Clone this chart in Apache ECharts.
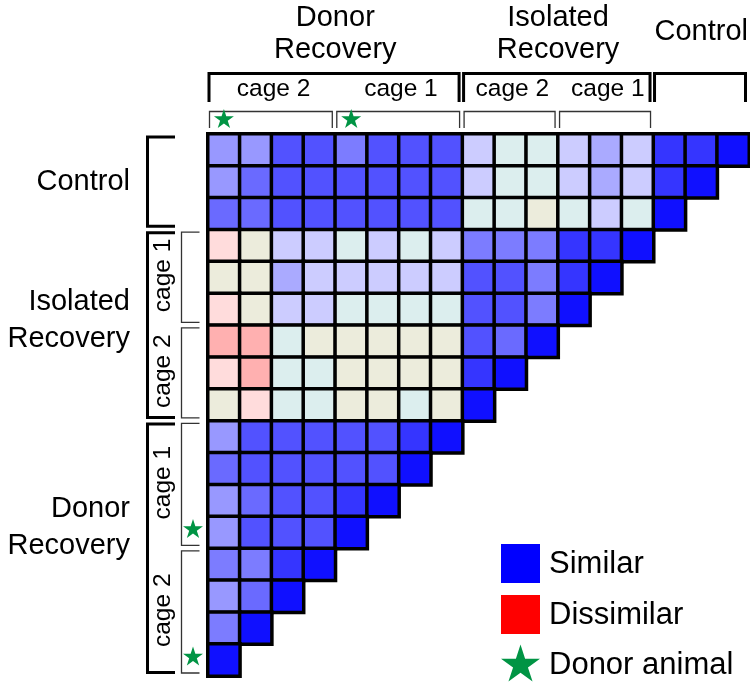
<!DOCTYPE html>
<html><head><meta charset="utf-8">
<script src="https://cdn.jsdelivr.net/npm/echarts@6/dist/echarts.min.js"></script>
<style>html,body{margin:0;padding:0;background:#fff}#c{width:750px;height:685px}</style>
</head><body><div id="c"></div>
<script>
// Column animals (left to right)
const columns = ['D2-1','D2-2','D2-3','D2-4','D1-1','D1-2','D1-3','D1-4','I2-1','I2-2','I2-3','I1-1','I1-2','I1-3','C-1','C-2','C-3'];
// Row animals (top to bottom)
const rows = ['C-1','C-2','C-3','I1-1','I1-2','I1-3','I2-1','I2-2','I2-3','D1-1','D1-2','D1-3','D1-4','D2-1','D2-2','D2-3','D2-4'];
// Similarity level per row (10 = most similar, -1 = most dissimilar)
const similarity = [
  [5,5,8,8,6,8,8,8,3,2,2,3,4,3,9,9,10],
  [5,7,8,8,8,8,8,8,3,2,2,3,4,3,9,10],
  [7,7,8,8,8,8,8,8,2,2,1,2,3,2,10],
  [0,1,3,3,2,3,2,3,6,6,6,9,9,10],
  [1,1,4,3,3,3,3,3,8,8,6,9,10],
  [0,1,3,3,2,2,2,2,8,8,6,10],
  [-1,-1,2,1,1,1,1,1,8,7,10],
  [0,-1,2,2,1,1,1,1,9,10],
  [1,0,2,2,1,1,2,1,10],
  [5,8,8,8,8,8,9,10],
  [7,8,8,8,8,8,10],
  [5,7,8,8,9,10],
  [5,8,8,8,10],
  [6,6,9,10],
  [5,7,10],
  [6,10],
  [10]
];
const levels = [10,9,8,7,6,5,4,3,2,1,0,-1];
const levelColors = ['#1010ff','#3535ff','#5252ff','#6a6aff','#7c7cff','#9898ff','#aaaaff','#ccccff','#dceeee','#ececdc','#ffdcdc','#ffb0b0'];

const colGroupLabels = ['Donor\nRecovery','Isolated\nRecovery','Control'];
const colGroupSizes = [8,6,3];
const colCageLabels = ['cage 2','cage 1','cage 2','cage 1'];
const colCageSizes = [4,4,3,3];
const rowGroupLabels = ['Control','Isolated\nRecovery','Donor\nRecovery'];
const rowGroupSizes = [3,6,8];
const rowCageLabels = ['cage 1','cage 2','cage 1','cage 2'];
const rowCageSizes = [3,3,4,4];
const rowCageFirst = 3;
const donorColumns = [0,4];
const donorRows = [12,16];
const legendLabels = ['Similar','Dissimilar','Donor animal'];
const legendColors = ['#0000ff','#ff0000','#009444'];

const FONT = '"Liberation Sans", Arial, Helvetica, sans-serif';
const STAR = '#009444';

const data = [];
similarity.forEach((row, r) => row.forEach((v, c) => data.push([c, r, v])));

const chart = echarts.init(document.getElementById('c'), null, {renderer: 'canvas'});
chart.setOption({
  animation: false,
  backgroundColor: '#fff',
  grid: {left: 208, top: 134, width: 541, height: 542},
  xAxis: {type: 'category', data: columns, show: false},
  yAxis: {type: 'category', data: rows, inverse: true, show: false},
  visualMap: {
    type: 'piecewise', show: false, dimension: 2,
    pieces: levels.map((v, i) => ({value: v, color: levelColors[i]}))
  },
  series: [{
    type: 'heatmap', data: data,
    itemStyle: {borderColor: '#000', borderWidth: 3.5},
    emphasis: {disabled: true}
  }]
});

const P = (c, r) => chart.convertToPixel({gridIndex: 0}, [c, r]);
const p0 = P(0, 0), p1 = P(1, 1);
const pw = p1[0] - p0[0], ph = p1[1] - p0[1];
const colL = i => p0[0] + (i - 0.5) * pw;
const rowT = j => p0[1] + (j - 0.5) * ph;

function poly(points, w, color) {
  return {type: 'polyline', silent: true, shape: {points: points},
    style: {stroke: color, lineWidth: w, fill: 'none', lineJoin: 'miter', lineCap: 'butt'}};
}
function text(x, y, t, size, align, lh, extra) {
  return Object.assign({type: 'text', x: x, y: y, silent: true,
    style: {text: t, fontSize: size, fontFamily: FONT, fill: '#000', align: align, verticalAlign: 'middle', lineHeight: lh || Math.round(size * 1.23)}}, extra || {});
}
function star(cx, cy, R, color) {
  const pts = [];
  for (let k = 0; k < 10; k++) {
    const rad = k % 2 === 0 ? R : R * 0.382;
    const a = -Math.PI / 2 + k * Math.PI / 5;
    pts.push([cx + rad * Math.cos(a), cy + rad * Math.sin(a)]);
  }
  return {type: 'polygon', silent: true, shape: {points: pts}, style: {fill: color}};
}

const g = [];
// top group brackets & labels
let s = 0;
colGroupLabels.forEach((lab, i) => {
  const a = s, b = s + colGroupSizes[i];
  const x0 = colL(a) + 1, x1 = colL(b) - 3.5;
  g.push(poly([[x0, 102], [x0, 73.5], [x1, 73.5], [x1, 102]], 3, '#000'));
  const multi = lab.indexOf('\n') >= 0;
  g.push(text((colL(a) + colL(b)) / 2, multi ? 34 : 32, lab, 29, 'center', 32));
  s = b;
});
// top cage brackets & labels
s = 0;
colCageLabels.forEach((lab, i) => {
  const a = s, b = s + colCageSizes[i];
  const x0 = colL(a) + 1.5, x1 = colL(b) - 3;
  g.push(poly([[x0, 128], [x0, 111.5], [x1, 111.5], [x1, 128]], 1.3, '#333'));
  g.push(text((colL(a) + colL(b)) / 2 + 2, 89, lab, 24.5, 'center'));
  s = b;
});
// left group brackets & labels
const rowLabelShift = [0, -5, -21];
s = 0;
rowGroupLabels.forEach((lab, i) => {
  const a = s, b = s + rowGroupSizes[i];
  const y0 = rowT(a) + 3, y1 = rowT(b) - 3.5;
  g.push(poly([[175, y0], [147.5, y0], [147.5, y1], [175, y1]], 3, '#000'));
  const cy = (rowT(a) + rowT(b)) / 2 + rowLabelShift[i];
  g.push(text(130, cy, lab, 29, 'right', 37));
  s = b;
});
// left cage brackets & labels
s = rowCageFirst;
rowCageLabels.forEach((lab, i) => {
  const a = s, b = s + rowCageSizes[i];
  const y0 = rowT(a) + 2.5, y1 = rowT(b) - 3;
  g.push(poly([[199.5, y0], [181.5, y0], [181.5, y1], [199.5, y1]], 1.3, '#333'));
  g.push(text(163, (rowT(a) + rowT(b)) / 2 - 2, lab, 24.5, 'center', null, {rotation: Math.PI / 2}));
  s = b;
});
// donor stars
donorColumns.forEach(c => g.push(star(P(c, 0)[0], 119.5, 10.5, STAR)));
donorRows.forEach(r => g.push(star(193, P(0, r)[1] - 3, 10.5, STAR)));
// legend
g.push({type: 'rect', silent: true, shape: {x: 501, y: 544, width: 39, height: 39}, style: {fill: legendColors[0]}});
g.push({type: 'rect', silent: true, shape: {x: 501, y: 595, width: 39, height: 39}, style: {fill: legendColors[1]}});
g.push(star(520.5, 665, 20.5, legendColors[2]));
g.push(text(549, 564, legendLabels[0], 31, 'left'));
g.push(text(549, 615, legendLabels[1], 31, 'left'));
g.push(text(549, 665, legendLabels[2], 31, 'left'));

chart.setOption({graphic: {elements: g}});
</script>
</body></html>
